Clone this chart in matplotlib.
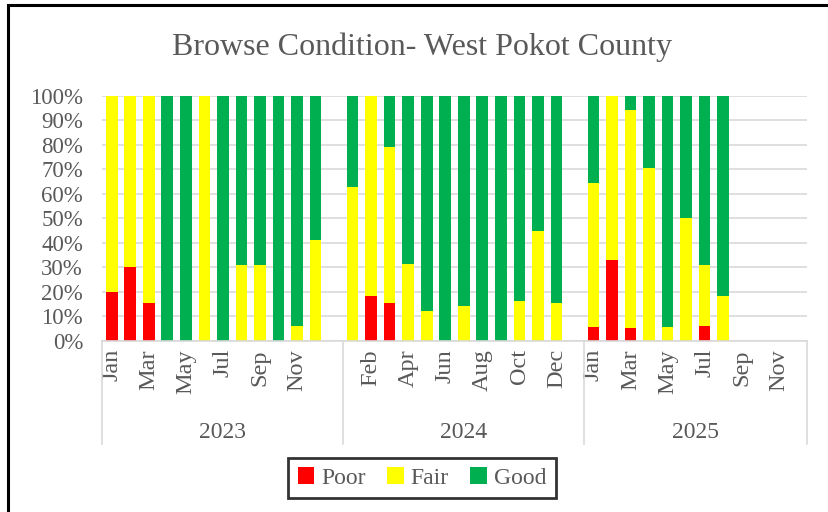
import numpy as np
import matplotlib.pyplot as plt
from matplotlib.patches import Rectangle
from matplotlib.transforms import blended_transform_factory

months = ['Jan', 'Feb', 'Mar', 'Apr', 'May', 'Jun',
          'Jul', 'Aug', 'Sep', 'Oct', 'Nov', 'Dec']
years = ['2023', '2024', '2025']

# percentage of each condition per month (nan = no data yet)
poor_2023 = [20, 30, 15.5, 0, 0, 0, 0, 0, 0, 0, 0, 0]
fair_2023 = [80, 70, 84.5, 0, 0, 100, 0, 31, 31, 0, 6, 41]
good_2023 = [0, 0, 0, 100, 100, 0, 100, 69, 69, 100, 94, 59]

poor_2024 = [0, 18.4, 15.5, 0, 0, 0, 0, 0, 0, 0, 0, 0]
fair_2024 = [63, 81.6, 63.5, 31.3, 12.1, 0, 14, 0, 0, 16.3, 44.8, 15.5]
good_2024 = [37, 0, 21, 68.7, 87.9, 100, 86, 100, 100, 83.7, 55.2, 84.5]

nan = np.nan
poor_2025 = [5.6, 33.1, 5.3, 0, 0, 0, 6, 0, nan, nan, nan, nan]
fair_2025 = [59, 66.9, 88.8, 70.4, 5.6, 50, 24.9, 18.4, nan, nan, nan, nan]
good_2025 = [35.4, 0, 5.9, 29.6, 94.4, 50, 69.1, 81.6, nan, nan, nan, nan]

poor = [poor_2023, poor_2024, poor_2025]
fair = [fair_2023, fair_2024, fair_2025]
good = [good_2023, good_2024, good_2025]

colors = {'Poor': '#FF0000', 'Fair': '#FFFF00', 'Good': '#00B050'}
grey = '#595959'
plt.rcParams['font.family'] = ['Liberation Serif', 'DejaVu Serif']

fig = plt.figure(figsize=(8.29, 5.12), dpi=100)
ax = fig.add_axes([0.1236, 0.3346, 0.8493, 0.4779])

# each year takes 13 slots (the source sheet had an empty row after Dec)
slot = 13
for yi in range(3):
    x = yi * slot + np.arange(12)
    p = np.array(poor[yi], dtype=float)
    f = np.array(fair[yi], dtype=float)
    g = np.array(good[yi], dtype=float)
    tot = p + f + g
    p, f, g = p / tot, f / tot, g / tot
    lab = yi == 0
    ax.bar(x, p, 0.63, color=colors['Poor'], label='Poor' if lab else None, zorder=2)
    ax.bar(x, f, 0.63, bottom=p, color=colors['Fair'], label='Fair' if lab else None, zorder=2)
    ax.bar(x, g, 0.63, bottom=p + f, color=colors['Good'], label='Good' if lab else None, zorder=2)

ax.set_xlim(-0.5, 3 * slot - 1 - 0.5)
ax.set_ylim(0, 1)
ax.set_yticks(np.arange(0, 1.01, 0.1))
ax.set_yticklabels(['%d%%' % v for v in range(0, 101, 10)])
ax.yaxis.grid(True, color='#D9D9D9', lw=1.2, zorder=0)
ax.set_axisbelow(True)
for s in ['left', 'right', 'top']:
    ax.spines[s].set_visible(False)
ax.spines['bottom'].set_color('#D9D9D9')
ax.spines['bottom'].set_linewidth(1.2)

# every other category gets a month label, as in the source
ticks, labels = [], []
for yi in range(3):
    for mi in range(12):
        pos = yi * slot + mi
        if pos % 2 == 0:
            ticks.append(pos)
            labels.append(months[mi])
ax.set_xticks(ticks)
ax.set_xticklabels(labels, rotation=90)
ax.tick_params(axis='x', length=0, pad=6, labelsize=17.5, labelcolor=grey)
ax.tick_params(axis='y', length=0, pad=14, labelsize=16.5, labelcolor=grey)

# year level of the category axis
trans = blended_transform_factory(ax.transData, ax.transAxes)
for b in [-0.5, slot - 0.5, 2 * slot - 0.5, 3 * slot - 1.5]:
    ax.plot([b, b], [0, -0.422], transform=trans, color='#D9D9D9', lw=1.2, clip_on=False)
centers = [(slot - 1) / 2, slot + (slot - 1) / 2, 2 * slot + (slot - 2) / 2]
for c, yr in zip(centers, years):
    ax.text(c, -0.375, yr, transform=trans, ha='center', va='center',
            fontsize=17, color=grey)

fig.text(0.509, 0.908, 'Browse Condition- West Pokot County', ha='center', va='center',
         fontsize=23, color=grey)

leg = fig.legend(loc='center', bbox_to_anchor=(0.509, 0.066), ncol=3, frameon=True,
                 fancybox=False, fontsize=17, handlelength=0.7, handleheight=0.7,
                 handletextpad=0.3, columnspacing=0.9, borderpad=0.4)
leg.get_frame().set_edgecolor('black')
leg.get_frame().set_linewidth(2)
for t in leg.get_texts():
    t.set_color(grey)

fig.patches.append(Rectangle((8 / 829, -0.1), 1.1, 1.1 - 5 / 512, transform=fig.transFigure,
                             fill=False, edgecolor='black', lw=2.2))

fig.savefig('out.png', dpi=100)
